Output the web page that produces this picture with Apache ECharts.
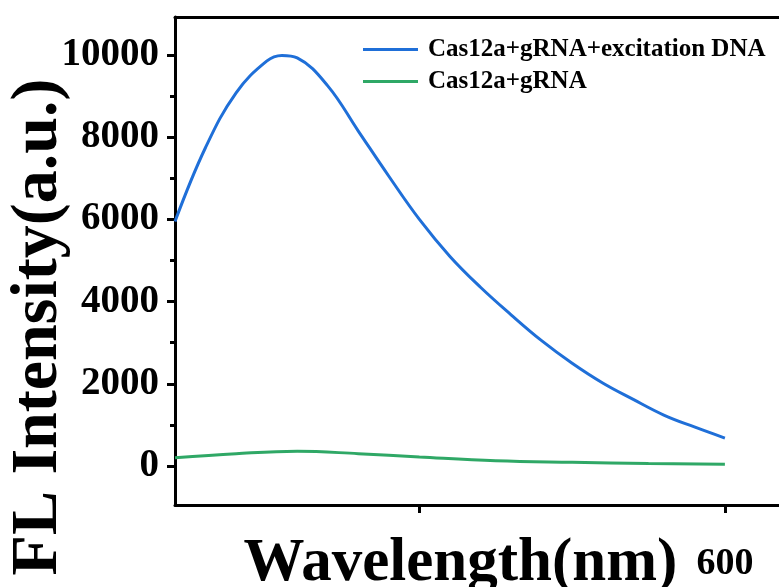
<!DOCTYPE html>
<html>
<head>
<meta charset="utf-8">
<script src="https://cdn.jsdelivr.net/npm/echarts@6/dist/echarts.min.js"></script>
<style>
  html, body { margin: 0; padding: 0; background: #fff; }
  #chart { width: 779px; height: 587px; }
</style>
</head>
<body>
<div id="chart"></div>
<script>
// wavelength (nm) and FL intensity
var blueWl = [420, 430, 440, 450, 455, 460, 470, 480, 490, 500, 510, 520, 530, 540, 550, 560, 570, 580, 590, 600];
var blueVal = [5950, 7750, 9080, 9850, 9990, 9930, 9250, 8150, 7050, 6000, 5100, 4350, 3680, 3050, 2500, 2020, 1620, 1240, 950, 680];

var greenWl = [420, 440, 460, 480, 500, 525, 550, 575, 600];
var greenVal = [200, 300, 360, 300, 220, 130, 90, 60, 45];

var yLabels = [0, 2000, 4000, 6000, 8000, 10000];
var yMinor = [1000, 3000, 5000, 7000, 9000];
var xTicks = [500, 600];
var xLabels = [600];

var seriesNames = ['Cas12a+gRNA+excitation DNA', 'Cas12a+gRNA'];

function pairs(xs, ys) {
    return xs.map(function (x, i) { return [x, ys[i]]; });
}

var font = 'Liberation Serif';
var chart = echarts.init(document.getElementById('chart'));

chart.setOption({
    animation: false,
    grid: { left: 175, right: -7, top: 17, bottom: 82, outerBoundsMode: 'none', containLabel: false },
    legend: {
        orient: 'vertical',
        left: 358,
        top: 32,
        itemWidth: 55,
        itemHeight: 12,
        itemGap: 7,
        icon: 'path://M0,5 L55,5 L55,8 L0,8 Z',
        textStyle: { fontFamily: font, fontWeight: 'bold', fontSize: 25, color: '#000', padding: [0, 0, 0, 5] },
        data: seriesNames
    },
    xAxis: [{
        type: 'value',
        min: 420,
        max: 620,
        name: 'Wavelength(nm)',
        nameLocation: 'middle',
        nameGap: 29,
        nameMoveOverlap: false,
        nameTextStyle: { fontFamily: font, fontWeight: 'bold', fontSize: 61, color: '#000', padding: [0, 40, 0, 0] },
        axisLine: { onZero: false, lineStyle: { color: '#000', width: 3 } },
        axisTick: { customValues: xTicks, length: 8, lineStyle: { color: '#000', width: 3 } },
        axisLabel: { customValues: xLabels, margin: 40, fontFamily: font, fontWeight: 'bold', fontSize: 38, color: '#000',
            formatter: function (v) { return String(v); } },
        splitLine: { show: false }
    }, {
        type: 'value',
        position: 'top',
        min: 420,
        max: 620,
        axisLine: { onZero: false, lineStyle: { color: '#000', width: 3 } },
        axisTick: { show: false },
        axisLabel: { show: false },
        splitLine: { show: false }
    }],
    yAxis: [{
        type: 'value',
        min: -949,
        max: 10925,
        name: 'FL Intensity(a.u.)',
        nameLocation: 'middle',
        nameGap: 103,
        nameMoveOverlap: false,
        nameTextStyle: { fontFamily: font, fontWeight: 'bold', fontSize: 66, color: '#000', padding: [0, 132, 0, 0] },
        axisLine: { onZero: false, lineStyle: { color: '#000', width: 3 } },
        axisTick: { customValues: yLabels, length: 8, lineStyle: { color: '#000', width: 3 } },
        axisLabel: { customValues: yLabels, margin: 16, fontFamily: font, fontWeight: 'bold', fontSize: 39, color: '#000',
            formatter: function (v) { return String(v); } },
        splitLine: { show: false }
    }, {
        type: 'value',
        position: 'left',
        min: -949,
        max: 10925,
        axisLine: { show: false, onZero: false },
        axisTick: { customValues: yMinor, length: 5, lineStyle: { color: '#000', width: 3 } },
        axisLabel: { show: false },
        splitLine: { show: false }
    }],
    series: [{
        name: seriesNames[0],
        type: 'line',
        smooth: 0.4,
        showSymbol: false,
        color: '#1f6fd8',
        lineStyle: { width: 3, color: '#1f6fd8' },
        data: pairs(blueWl, blueVal)
    }, {
        name: seriesNames[1],
        type: 'line',
        smooth: 0.4,
        showSymbol: false,
        color: '#2fa866',
        lineStyle: { width: 3, color: '#2fa866' },
        data: pairs(greenWl, greenVal)
    }]
});
</script>
</body>
</html>
